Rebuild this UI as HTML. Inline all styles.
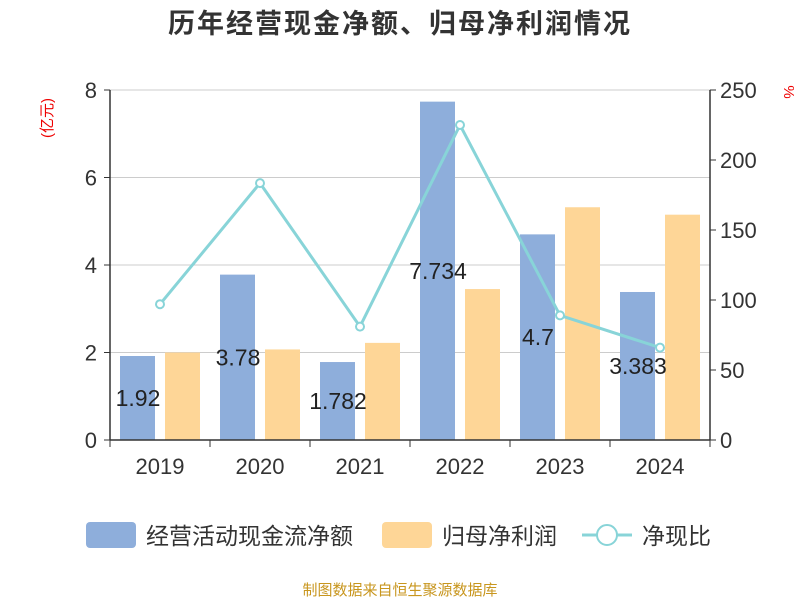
<!DOCTYPE html>
<html><head><meta charset="utf-8"><style>
body{margin:0;background:#fff;}
svg text{font-family:"Liberation Sans","Noto Sans CJK SC",sans-serif;}
</style></head><body>
<svg id="chart" width="800" height="600" xmlns="http://www.w3.org/2000/svg">
<text x="400" y="33" text-anchor="middle" font-size="27" font-weight="bold" letter-spacing="2" fill="#333">历年经营现金净额、归母净利润情况</text>
<text transform="translate(52,118) rotate(-90)" text-anchor="middle" font-size="15" fill="#e00">(亿元)</text>
<text transform="translate(784,92) rotate(90)" text-anchor="middle" font-size="15" fill="#e00">%</text>
<g id="grid"></g><g id="bars"></g><g id="line"></g><g id="axes"></g>
<g>
<rect x="86" y="522" width="50" height="26" rx="4" fill="#8eaedb"/>
<text x="146" y="544" font-size="23" fill="#333">经营活动现金流净额</text>
<rect x="382" y="522" width="50" height="26" rx="4" fill="#fed697"/>
<text x="442" y="544" font-size="23" fill="#333">归母净利润</text>
<line x1="582" y1="535" x2="632" y2="535" stroke="#88d4d8" stroke-width="3"/>
<circle cx="607" cy="535" r="10" fill="#fff" stroke="#88d4d8" stroke-width="2"/>
<text x="642" y="544" font-size="23" fill="#333">净现比</text>
</g>
<text x="400" y="595" text-anchor="middle" font-size="15" fill="#c8961e">制图数据来自恒生聚源数据库</text>
</svg>
<script>
const categories=["2019","2020","2021","2022","2023","2024"];
const cashflow=[1.92,3.78,1.782,7.734,4.7,3.383];
const profit=[2.0,2.07,2.22,3.45,5.32,5.15];
const ratio=[97,183.5,81,225,89,66];
const leftTicks=[0,2,4,6,8];
const rightTicks=[0,50,100,150,200,250];
const NS="http://www.w3.org/2000/svg";
const X0=110,X1=710,Y0=440,Y1=90;
const bw=(X1-X0)/categories.length;
const yL=v=>Y0-(v/8)*(Y0-Y1);
const yR=v=>Y0-(v/250)*(Y0-Y1);
const xc=i=>X0+bw*(i+0.5);
function mk(tag,attrs,parent,txt){const e=document.createElementNS(NS,tag);for(const k in attrs)e.setAttribute(k,attrs[k]);if(txt!==undefined)e.textContent=txt;document.getElementById(parent).appendChild(e);return e;}
leftTicks.forEach(t=>{
 if(t>0){const g=mk('line',{x1:X0,x2:X1,y1:yL(t),y2:yL(t),stroke:'#ccc','stroke-width':1},'grid');
 
 }
 const l=mk('text',{x:X0-13,y:yL(t)+8,'text-anchor':'end','font-size':22,fill:'#333'},'axes',t);
 
 
 const tk=mk('line',{x1:X0-6,x2:X0,y1:yL(t),y2:yL(t),stroke:'#333'},'axes');
 
 
});
rightTicks.forEach(t=>{
 const l=mk('text',{x:X1+10,y:yR(t)+8,'font-size':22,fill:'#333'},'axes',t);
 
 
 const tk=mk('line',{x1:X1,x2:X1+6,y1:yR(t),y2:yR(t),stroke:'#333'},'axes');
 
 
});
categories.forEach((c,i)=>{
 const b=mk('rect',{x:xc(i)-40,y:yL(cashflow[i]),width:35,height:Y0-yL(cashflow[i]),fill:'#8eaedb'},'bars');
 
 
 const o=mk('rect',{x:xc(i)+5,y:yL(profit[i]),width:35,height:Y0-yL(profit[i]),fill:'#fed697'},'bars');
 
 
 const lb=mk('text',{x:xc(i)-22,y:(yL(cashflow[i])+Y0)/2+8,'text-anchor':'middle','font-size':23,fill:'#222'},'line',cashflow[i]);
 
 
 const cl=mk('text',{x:xc(i),y:Y0+34,'text-anchor':'middle','font-size':22,fill:'#333'},'axes',c);
 
 
});
for(let i=0;i<=categories.length;i++){
 const tk=mk('line',{x1:X0+bw*i,x2:X0+bw*i,y1:Y0,y2:Y0+7,stroke:'#333'},'axes');
 
 
}
const ax=mk('line',{x1:X0,x2:X1,y1:Y0,y2:Y0,stroke:'#333','stroke-width':1.5},'axes');


const la=mk('line',{x1:X0,x2:X0,y1:Y1,y2:Y0,stroke:'#333','stroke-width':1.5},'axes');


const ra=mk('line',{x1:X1,x2:X1,y1:Y1,y2:Y0,stroke:'#333','stroke-width':1.5},'axes');


const pts=ratio.map((v,i)=>xc(i)+','+yR(v)).join(' ');
const pl=mk('polyline',{points:pts,fill:'none',stroke:'#88d4d8','stroke-width':3},'line');


ratio.forEach((v,i)=>{
 const p=mk('circle',{cx:xc(i),cy:yR(v),r:4,fill:'#fff',stroke:'#88d4d8','stroke-width':2},'line');
 
 
});
</script>
</body></html>
